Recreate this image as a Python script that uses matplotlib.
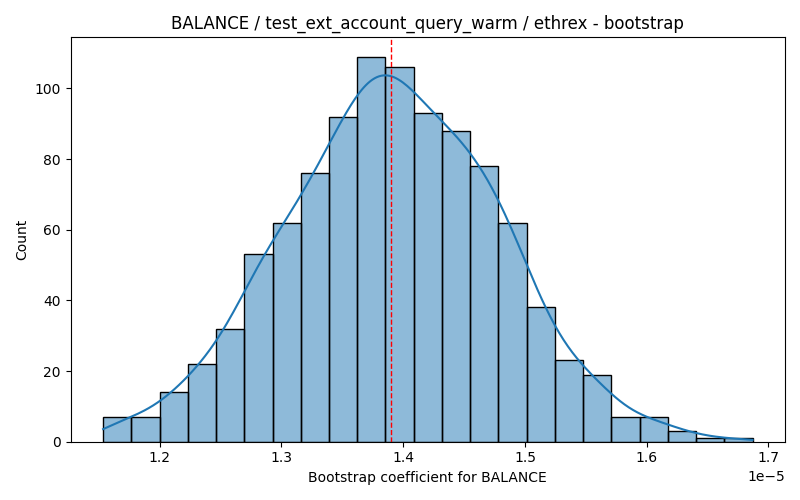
import numpy as np
import matplotlib
matplotlib.use("Agg")
from matplotlib import pyplot as plt

# bootstrap histogram (23 bins)
bin_lo = 1.1535e-5
bin_hi = 1.6869e-5
counts = [7, 7, 14, 22, 32, 53, 62, 76, 92, 109, 106, 93, 88,
          78, 62, 38, 23, 19, 7, 7, 3, 1, 1]
point_estimate = 1.3896e-5

title = "BALANCE / test_ext_account_query_warm / ethrex - bootstrap"
xlabel = "Bootstrap coefficient for BALANCE"

counts = np.array(counts, dtype=float)
edges = np.linspace(bin_lo, bin_hi, len(counts) + 1)
width = edges[1] - edges[0]
centers = (edges[:-1] + edges[1:]) / 2

# weighted gaussian kde, scott bandwidth, scaled to counts
n = counts.sum()
mean = np.sum(centers * counts) / n
var = np.sum(counts * (centers - mean) ** 2) / n
std = np.sqrt(var - width ** 2 / 12)  # sheppard correction for binning
bw = std * n ** (-1 / 5)
# binned points already carry some spread, take it off the kernel
kern = np.sqrt(max(bw ** 2 - width ** 2 / 12, (0.5 * bw) ** 2))
xs = np.linspace(bin_lo, bin_hi, 300)
dens = np.zeros_like(xs)
for c, k in zip(centers, counts):
    dens += k * np.exp(-0.5 * ((xs - c) / kern) ** 2)
dens = dens / (n * kern * np.sqrt(2 * np.pi))
kde = dens * n * width

fig, ax = plt.subplots(figsize=(8, 5), dpi=100)
ax.bar(edges[:-1], counts, width=width, align="edge",
       color="#1f77b4", alpha=0.5, edgecolor="none")
ax.bar(edges[:-1], counts, width=width, align="edge",
       fill=False, edgecolor="black", linewidth=1)
ax.plot(xs, kde, color="#1f77b4", linewidth=1.5)
ax.axvline(point_estimate, color="red", linestyle="--", linewidth=1)

ax.set_title(title)
ax.set_xlabel(xlabel)
ax.set_ylabel("Count")
fig.tight_layout()
fig.savefig("out.png")
